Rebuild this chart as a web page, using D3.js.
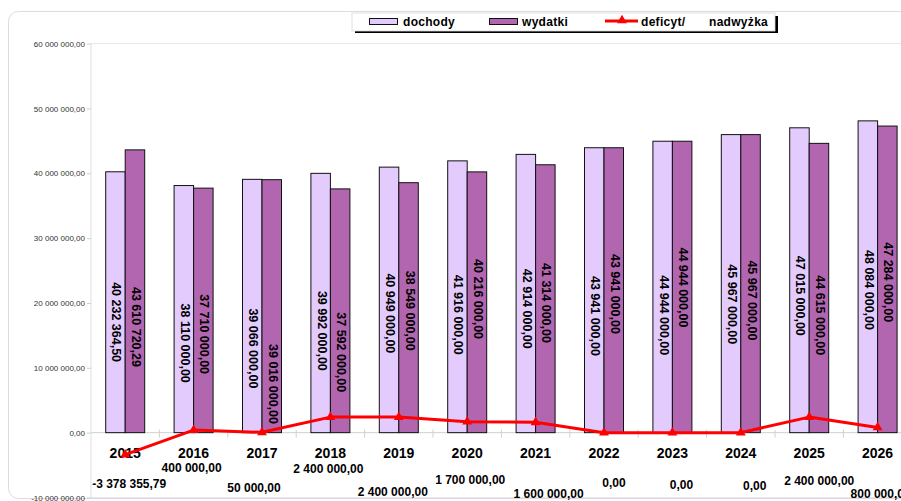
<!DOCTYPE html>
<html>
<head>
<meta charset="utf-8">
<script src="https://cdn.jsdelivr.net/npm/d3@7"></script>
<style>
  body { margin: 0; background: #fff; }
  svg { display: block; font-family: "Liberation Sans", Arial, sans-serif; }
</style>
</head>
<body>
<div id="chart"></div>
<script>
// data
var years = ["2015", "2016", "2017", "2018", "2019", "2020", "2021", "2022", "2023", "2024", "2025", "2026"];
var dochody = [40232364.50, 38110000, 39066000, 39992000, 40949000, 41916000, 42914000, 43941000, 44944000, 45967000, 47015000, 48084000];
var wydatki = [43610720.29, 37710000, 39016000, 37592000, 38549000, 40216000, 41314000, 43941000, 44944000, 45967000, 44615000, 47284000];
var deficyt = [-3378355.79, 400000, 50000, 2400000, 2400000, 1700000, 1600000, 0, 0, 0, 2400000, 800000];
var yTicks = [-10000000, 0, 10000000, 20000000, 30000000, 40000000, 50000000, 60000000];

// where the (hand-placed) labels sit, in axis units / pixel nudges
var dochodyLabelAt = [17.05, 13.8, 13.0, 15.7, 18.4, 18.2, 19.1, 18.0, 18.1, 19.8, 21.1, 22.0];
var wydatkiLabelAt = [16.3, 15.2, 7.5, 12.4, 18.8, 20.6, 20.0, 21.4, 22.4, 20.4, 18.1, 23.2];
var defLabelDx = [4, -2, -8, -2, -6, 3, 13, 10, 9, 14, 10, 3];
var defLabelDy = [51, 35, 55, 36, 59, 47, 61, 50, 52, 53, 48, 61];

var W = 901, H = 501;
var colDoch = "#e3ccfd", colWyd = "#b166af", colLine = "#ff0000";

var fmt = function(v) {
  var s = Math.abs(v).toFixed(2).split(".");
  var intPart = s[0].replace(/\B(?=(\d{3})+(?!\d))/g, " ");
  return (v < 0 ? "-" : "") + intPart + "," + s[1];
};

var svg = d3.select("#chart").append("svg")
  .attr("width", W).attr("height", H);

// outer chart frame
svg.append("rect")
  .attr("x", 8.5).attr("y", 11.5)
  .attr("width", 930).attr("height", 487)
  .attr("rx", 10)
  .attr("fill", "#fff")
  .attr("stroke", "#dcdcdc");

var plotLeft = 91, plotTop = 43.6, plotBottom = 497.5;
var step = 68.4;

var x = d3.scaleBand().domain(years).range([plotLeft, plotLeft + step * years.length]).padding(0);
var y = d3.scaleLinear().domain([-10000000, 60000000]).range([plotBottom, plotTop]);
var barW = 19.5;

var plot = svg.append("g");

// plot area lines
plot.append("line").attr("x1", plotLeft).attr("x2", 920).attr("y1", plotTop).attr("y2", plotTop)
  .attr("stroke", "#e6e6e6");
plot.append("line").attr("x1", plotLeft).attr("x2", 920).attr("y1", plotBottom).attr("y2", plotBottom)
  .attr("stroke", "#e6e6e6");
plot.append("line").attr("x1", plotLeft).attr("x2", plotLeft).attr("y1", plotTop).attr("y2", plotBottom)
  .attr("stroke", "#dedede");

// y axis labels
var yAxis = d3.axisLeft(y).tickValues(yTicks).tickSize(4).tickPadding(2).tickFormat(fmt);
var gy = svg.append("g").attr("transform", "translate(" + plotLeft + ",0)").call(yAxis);
gy.select(".domain").remove();
gy.selectAll(".tick line").attr("stroke", "#d0d0d0");
gy.selectAll(".tick text")
  .attr("font-family", "'Liberation Sans', Arial, sans-serif")
  .attr("font-size", "8px")
  .attr("fill", "#333");

// zero line + category ticks
plot.append("line").attr("x1", plotLeft).attr("x2", 920).attr("y1", y(0)).attr("y2", y(0))
  .attr("stroke", "#d0d0d0");
plot.selectAll(".xtick").data(years.slice(1)).enter().append("line")
  .attr("x1", function(d) { return x(d); })
  .attr("x2", function(d) { return x(d); })
  .attr("y1", y(0) - 3).attr("y2", y(0) + 5)
  .attr("stroke", "#d0d0d0");

// bars
var cx = function(i) { return x(years[i]) + x.bandwidth() / 2; };

plot.selectAll(".bar-d").data(dochody).enter().append("rect")
  .attr("x", function(d, i) { return cx(i) - barW; })
  .attr("y", function(d) { return y(d); })
  .attr("width", barW)
  .attr("height", function(d) { return y(0) - y(d); })
  .attr("fill", colDoch)
  .attr("stroke", "#111").attr("stroke-width", 1);

plot.selectAll(".bar-w").data(wydatki).enter().append("rect")
  .attr("x", function(d, i) { return cx(i); })
  .attr("y", function(d) { return y(d); })
  .attr("width", barW)
  .attr("height", function(d) { return y(0) - y(d); })
  .attr("fill", colWyd)
  .attr("stroke", "#111").attr("stroke-width", 1);

// bar value labels (rotated)
var barLabel = function(vals, at, off) {
  plot.selectAll(null).data(vals).enter().append("text")
    .attr("transform", function(d, i) {
      return "translate(" + (cx(i) + off) + "," + y(at[i] * 1e6) + ") rotate(90)";
    })
    .attr("text-anchor", "middle")
    .attr("dominant-baseline", "central")
    .attr("font-size", "12.5px")
    .attr("font-weight", "bold")
    .attr("fill", "#000")
    .text(function(d) { return fmt(d); });
};
barLabel(dochody, dochodyLabelAt, -barW / 2 + 1);
barLabel(wydatki, wydatkiLabelAt, barW / 2 + 1);

// year labels
plot.selectAll(".year").data(years).enter().append("text")
  .attr("x", function(d, i) { return cx(i); })
  .attr("y", y(0) + 20.5)
  .attr("text-anchor", "middle")
  .attr("dominant-baseline", "central")
  .attr("font-size", "14px")
  .attr("font-weight", "bold")
  .text(function(d) { return d; });

// deficit line
var line = d3.line()
  .x(function(d, i) { return cx(i); })
  .y(function(d) { return y(d); });

plot.append("path")
  .datum(deficyt)
  .attr("d", line)
  .attr("fill", "none")
  .attr("stroke", colLine)
  .attr("stroke-width", 3)
  .attr("stroke-linejoin", "round");

var tri = d3.symbol().type(d3.symbolTriangle).size(42);
plot.selectAll(".mk").data(deficyt).enter().append("path")
  .attr("d", tri)
  .attr("transform", function(d, i) { return "translate(" + cx(i) + "," + y(d) + ")"; })
  .attr("fill", colLine);

// deficit labels
plot.selectAll(".dl").data(deficyt).enter().append("text")
  .attr("x", function(d, i) { return cx(i) + defLabelDx[i]; })
  .attr("y", function(d, i) { return y(0) + defLabelDy[i]; })
  .attr("text-anchor", "middle")
  .attr("dominant-baseline", "central")
  .attr("font-size", "12px")
  .attr("font-weight", "bold")
  .text(function(d) { return fmt(d); });

// legend
var lg = svg.append("g");
lg.append("rect").attr("x", 355).attr("y", 16).attr("width", 423).attr("height", 17).attr("fill", "#000");
lg.append("rect").attr("x", 352).attr("y", 13).attr("width", 423).attr("height", 18)
  .attr("fill", "#fff").attr("stroke", "#d8d8d8").attr("stroke-width", 0.8);

lg.append("rect").attr("x", 369.5).attr("y", 18.5).attr("width", 28).attr("height", 6)
  .attr("fill", colDoch).attr("stroke", "#111");
lg.append("rect").attr("x", 489.5).attr("y", 18.5).attr("width", 28).attr("height", 6)
  .attr("fill", colWyd).attr("stroke", "#111");
lg.append("line").attr("x1", 605).attr("x2", 638).attr("y1", 21).attr("y2", 21)
  .attr("stroke", colLine).attr("stroke-width", 3);
lg.append("path").attr("d", tri).attr("transform", "translate(622,20.5)").attr("fill", colLine);

var legendText = [["dochody", 403], ["wydatki", 522], ["deficyt/", 641], ["nadwyżka", 709]];
lg.selectAll(".lt").data(legendText).enter().append("text")
  .attr("x", function(d) { return d[1]; })
  .attr("y", 25.5)
  .attr("font-size", "12px")
  .attr("font-weight", "bold")
  .attr("letter-spacing", "0.3px")
  .text(function(d) { return d[0]; });
</script>
</body>
</html>
